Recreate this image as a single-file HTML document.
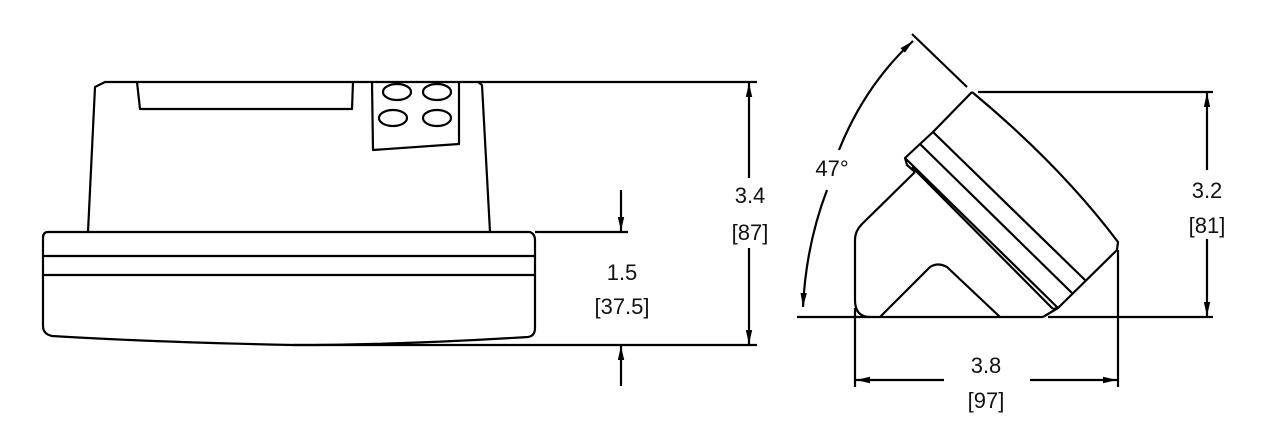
<!DOCTYPE html>
<html><head><meta charset="utf-8"><style>
html,body{margin:0;padding:0;background:#fff;}
svg{display:block;}
text{font-family:"Liberation Sans",sans-serif;font-size:22px;fill:#111;text-anchor:middle;}
</style></head><body>
<svg width="1287" height="425" viewBox="0 0 1287 425" xmlns="http://www.w3.org/2000/svg">
<defs>
<marker id="a" viewBox="0 0 14 10" refX="14" refY="5" markerWidth="14" markerHeight="10" markerUnits="userSpaceOnUse" orient="auto"><path d="M0,1.8 L14,5 L0,8.2 z" fill="#000"/></marker>
</defs>
<g fill="none" stroke="#000" stroke-width="2.2" stroke-linejoin="round">
<path d="M88,232 L95,87 L105,82 L478,82 L482,85 L490,232"/>
<path d="M137,82 L140,109 L352,109 L353,82"/>
<path d="M372,82 L373,150 L459,144 L459,82"/>
<ellipse cx="397" cy="92" rx="14" ry="8"/>
<ellipse cx="437" cy="92" rx="14" ry="8"/>
<ellipse cx="393" cy="118" rx="14" ry="8"/>
<ellipse cx="437" cy="118" rx="14" ry="8"/>
<path d="M48,232 L530,232 Q535,234 535,240 L535,328 Q535,336 528,337 Q400,345 293,345 Q150,342 52,336 Q43,334 43,326 L43,238 Q43,232 48,232 Z"/>
<line x1="43" y1="256" x2="535" y2="256"/>
<line x1="43" y1="275" x2="535" y2="275"/>
<line x1="478" y1="82" x2="757" y2="82"/>
<line x1="293" y1="345" x2="757" y2="345"/>
<line x1="535" y1="232" x2="628" y2="232"/>
<line x1="749" y1="178" x2="749" y2="83" marker-end="url(#a)"/>
<line x1="749" y1="248" x2="749" y2="344" marker-end="url(#a)"/>
<line x1="621" y1="190" x2="621" y2="231" marker-end="url(#a)"/>
<line x1="621" y1="386" x2="621" y2="346" marker-end="url(#a)"/>

<path d="M972,92 Q1060,165 1118,242 L1117,250 L1058,308 L1053,309"/>
<path d="M972,92 L933,132 L920,144 L905,158 L907,165 L915,172"/>
<line x1="933" y1="132" x2="1085" y2="280"/>
<line x1="920" y1="144" x2="1072" y2="293"/>
<line x1="905" y1="158" x2="1058" y2="308"/>
<line x1="912" y1="167" x2="1053" y2="309"/>
<path d="M915,172 L862,224 Q855,231 855,240 L855,300 Q855,317 870,317"/>
<path d="M880,317 L930,267 Q938,262 947,267 L1000,317"/>
<line x1="1043" y1="317" x2="1058" y2="308"/>
<line x1="797" y1="317" x2="1043" y2="317"/>
<line x1="1048" y1="317" x2="1213" y2="317"/>
<line x1="978" y1="92" x2="1213" y2="92"/>
<line x1="912" y1="34" x2="967" y2="87"/>
<line x1="855" y1="308" x2="855" y2="387"/>
<line x1="1118" y1="250" x2="1118" y2="387"/>
<line x1="1207" y1="170" x2="1207" y2="93" marker-end="url(#a)"/>
<line x1="1207" y1="239" x2="1207" y2="316" marker-end="url(#a)"/>
<line x1="944" y1="380" x2="856" y2="380" marker-end="url(#a)"/>
<line x1="1030" y1="380" x2="1117" y2="380" marker-end="url(#a)"/>
<path d="M839,150 Q865,85 913,41" marker-end="url(#a)"/>
<path d="M827,190 Q806,245 803,307" marker-end="url(#a)"/>
</g>
<text x="750" y="203">3.4</text>
<text x="750" y="240">[87]</text>
<text x="622" y="280">1.5</text>
<text x="622" y="314">[37.5]</text>
<text x="832" y="176">47°</text>
<text x="1207" y="198">3.2</text>
<text x="1207" y="233">[81]</text>
<text x="986" y="373">3.8</text>
<text x="986" y="408">[97]</text>
</svg>
</body></html>
